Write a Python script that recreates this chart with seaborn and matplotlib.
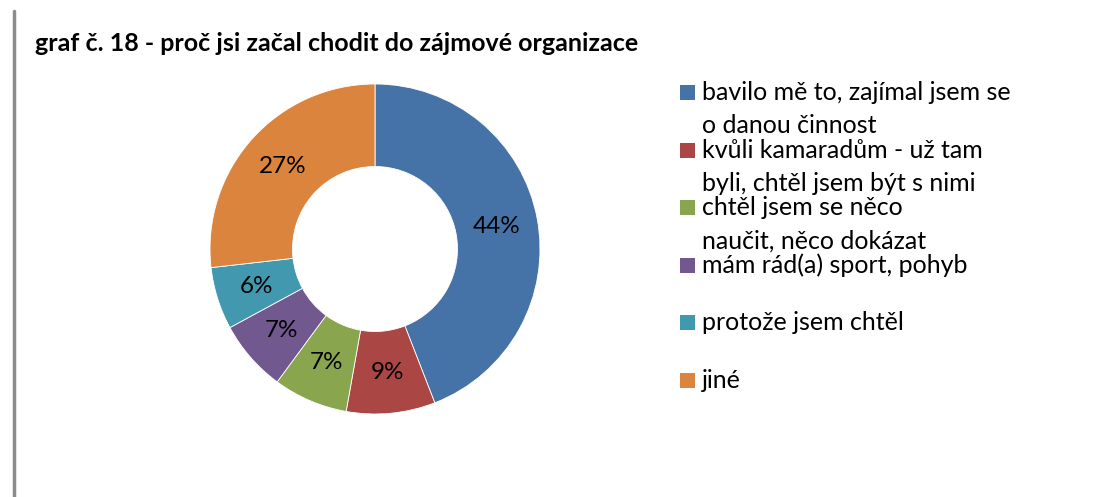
import matplotlib
matplotlib.use("Agg")
import matplotlib.pyplot as plt
from matplotlib.patches import Rectangle
from matplotlib.lines import Line2D
import seaborn as sns

# data (percent of answers)
categories = [
    "bavilo mě to, zajímal jsem se\no danou činnost",
    "kvůli kamaradům - už tam\nbyli, chtěl jsem být s nimi",
    "chtěl jsem se něco\nnaučit, něco dokázat",
    "mám rád(a) sport, pohyb",
    "protože jsem chtěl",
    "jiné",
]
shares = [44.1, 8.7, 7.3, 7.0, 6.1, 26.8]
colors = ["#4572A7", "#AA4643", "#89A54E", "#71588F", "#4198AF", "#DB843D"]
title = "graf č. 18 - proč jsi začal chodit do zájmové organizace"

sns.set_theme(style="white")
plt.rcParams["font.family"] = ["Lato", "DejaVu Sans"]

W, H = 1110, 497
fig = plt.figure(figsize=(W / 100, H / 100), dpi=100)

# donut centred at (375, 249) px, outer radius 165 px
cx, cy, r = 375, 249, 165
ax = fig.add_axes([(cx - r) / W, (H - cy - r) / H, 2 * r / W, 2 * r / H])
wedges, texts, autotexts = ax.pie(
    shares, colors=colors, startangle=90, counterclock=False,
    radius=1.0, autopct="%.0f%%", pctdistance=0.75,
    wedgeprops=dict(width=0.5, edgecolor="white", linewidth=0.6),
    textprops=dict(fontsize=17.5, color="black"),
)
ax.set_xlim(-1, 1)
ax.set_ylim(-1, 1)
ax.set_aspect("equal")
ax.axis("off")

# title
fig.text(35 / W, 1 - 51 / H, title, fontsize=18, fontweight="bold",
         ha="left", va="baseline", color="black")

# left border line
fig.add_artist(Line2D([14 / W, 14 / W], [0, 1 - 11 / H], color="#8c8c8c",
                      linewidth=2.5, transform=fig.transFigure))

# legend: square marker aligned with the first line of each entry
step = 57.6
line_gap = 33
for i, (lab, col) in enumerate(zip(categories, colors)):
    base = 100 + i * step
    fig.add_artist(Rectangle((680 / W, 1 - base / H), 15 / W, 15 / H,
                             facecolor=col, edgecolor="none",
                             transform=fig.transFigure))
    for j, part in enumerate(lab.split("\n")):
        fig.text(702 / W, 1 - (base + j * line_gap) / H, part, fontsize=18,
                 ha="left", va="baseline", color="black")

fig.savefig("out.png", dpi=100, facecolor="white")
